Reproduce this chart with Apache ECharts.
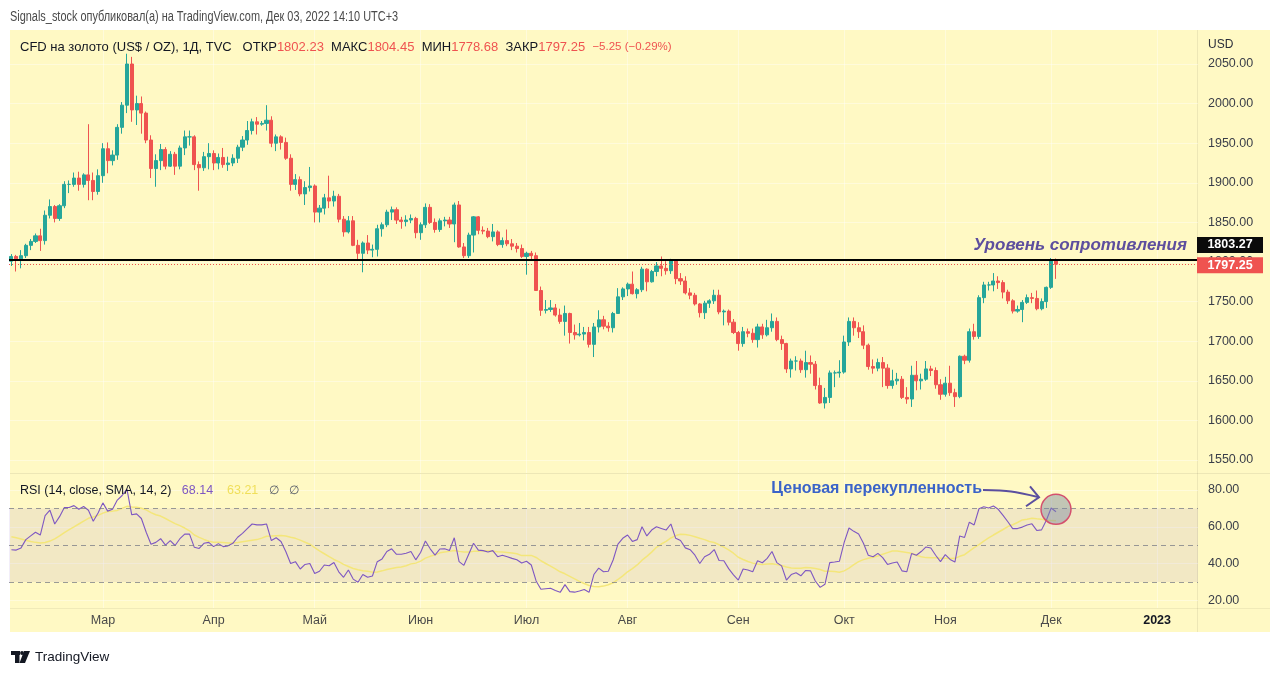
<!DOCTYPE html>
<html>
<head>
<meta charset="utf-8">
<script src="https://cdn.jsdelivr.net/npm/echarts@6/dist/echarts.min.js"></script>
<style>
html,body{margin:0;padding:0;background:#ffffff;}
#chart{width:1280px;height:676px;}
</style>
</head>
<body>
<div id="chart"></div>
<script>
// ---------------- DATA ----------------
const monthNames = ['Янв','Фев','Мар','Апр','Май','Июн','Июл','Авг','Сен','Окт','Ноя','Дек'];
const firstDay = '2022-02-02';
const totalSlots = 247; // weekday slots shown on the time scale (incl. empty future)

// daily candles [open, close, low, high], 2022-02-02 .. 2022-12-02
const candles = [
// Feb
[1801,1807,1795,1810],[1807,1804,1788,1809],[1804,1808,1792,1815],[1808,1821,1805,1823],[1821,1826,1815,1829],
[1826,1833,1824,1836],[1833,1827,1814,1842],[1827,1859,1822,1865],[1859,1870,1855,1879],[1870,1855,1850,1872],
[1855,1871,1852,1873],[1871,1898,1868,1902],[1898,1898,1887,1903],[1898,1906,1895,1913],[1906,1898,1890,1914],
[1898,1910,1894,1912],[1910,1903,1878,1974],[1903,1889,1878,1913],[1889,1909,1885,1917],
// Mar
[1909,1943,1900,1950],[1943,1928,1912,1951],[1928,1935,1922,1941],[1935,1970,1929,1974],[1970,1998,1962,2002],
[1998,2050,1988,2063],[2050,1992,1977,2059],[1992,2000,1973,2010],[2000,1988,1962,2009],[1988,1954,1950,1990],
[1954,1918,1906,1960],[1918,1928,1895,1936],[1928,1942,1916,1949],[1942,1921,1917,1945],[1921,1936,1920,1940],
[1936,1921,1910,1939],[1921,1944,1917,1947],[1944,1958,1935,1966],[1958,1958,1947,1966],[1958,1923,1916,1960],
[1923,1919,1890,1927],[1919,1933,1915,1939],[1933,1937,1917,1950],
// Apr
[1937,1925,1916,1941],[1925,1932,1917,1937],[1932,1923,1919,1944],[1923,1925,1915,1933],[1925,1931,1921,1936],
[1931,1945,1925,1948],[1945,1954,1940,1959],[1954,1966,1948,1978],[1966,1977,1961,1981],[1977,1974,1961,1983],
[1974,1975,1972,1978],[1975,1979,1966,1998],[1979,1950,1945,1984],[1950,1958,1940,1961],[1958,1951,1942,1960],
[1951,1931,1929,1957],[1931,1898,1890,1936],[1898,1904,1891,1911],[1904,1886,1883,1908],[1886,1894,1872,1902],
[1894,1896,1889,1920],
// May
[1896,1863,1850,1898],[1863,1868,1850,1872],[1868,1881,1860,1886],[1881,1877,1868,1909],[1877,1883,1870,1890],
[1883,1854,1850,1886],[1854,1838,1832,1858],[1838,1852,1836,1858],[1852,1821,1820,1858],[1821,1811,1802,1828],
[1811,1824,1787,1826],[1824,1815,1810,1834],[1815,1816,1806,1822],[1816,1842,1807,1847],[1842,1847,1832,1850],
[1847,1863,1844,1866],[1863,1866,1853,1870],[1866,1853,1848,1869],[1853,1851,1842,1857],[1851,1853,1845,1859],
[1853,1855,1849,1860],[1855,1837,1830,1857],
// Jun
[1837,1847,1828,1850],[1847,1869,1843,1874],[1869,1850,1848,1873],[1850,1841,1837,1855],[1841,1852,1838,1855],
[1852,1853,1845,1857],[1853,1848,1843,1857],[1848,1872,1825,1875],[1872,1819,1818,1877],[1819,1808,1805,1824],
[1808,1834,1805,1837],[1834,1857,1812,1858],[1857,1840,1835,1858],[1840,1839,1835,1845],[1839,1832,1830,1843],
[1832,1838,1826,1848],[1838,1822,1820,1840],[1822,1827,1818,1831],[1827,1823,1820,1841],[1823,1820,1815,1829],
[1820,1817,1812,1824],[1817,1807,1805,1822],
// Jul
[1807,1811,1784,1813],[1811,1808,1803,1814],[1808,1764,1764,1812],[1764,1739,1732,1769],[1739,1740,1735,1752],
[1740,1742,1737,1752],[1742,1733,1731,1747],[1733,1725,1722,1741],[1725,1735,1707,1745],[1735,1711,1697,1736],
[1711,1708,1702,1721],[1708,1709,1706,1723],[1709,1711,1701,1718],[1711,1696,1692,1718],[1696,1718,1680,1723],
[1718,1727,1711,1739],[1727,1719,1715,1732],[1719,1717,1712,1724],[1717,1735,1711,1737],[1735,1756,1735,1767],
[1756,1766,1752,1768],
// Aug
[1766,1772,1757,1774],[1772,1760,1759,1788],[1760,1765,1754,1767],[1765,1791,1762,1794],[1791,1775,1763,1792],
[1775,1788,1774,1790],[1788,1795,1782,1800],[1795,1792,1782,1807],[1792,1789,1784,1801],[1789,1802,1785,1804],
[1802,1779,1772,1803],[1779,1776,1771,1786],[1776,1761,1759,1782],[1761,1758,1753,1767],[1758,1747,1745,1761],
[1747,1736,1730,1748],[1736,1748,1728,1751],[1748,1751,1742,1753],[1751,1758,1747,1765],[1758,1737,1734,1765],
[1737,1738,1720,1740],[1738,1724,1720,1740],[1724,1711,1709,1728],
// Sep
[1711,1697,1688,1713],[1697,1712,1693,1718],[1712,1710,1705,1716],[1710,1702,1698,1716],[1702,1718,1692,1722],
[1718,1708,1703,1722],[1708,1717,1706,1727],[1717,1725,1712,1735],[1725,1702,1700,1730],[1702,1697,1689,1707],
[1697,1665,1660,1698],[1665,1675,1654,1678],[1675,1675,1663,1681],[1675,1664,1660,1678],[1664,1673,1654,1688],
[1673,1671,1659,1682],[1671,1644,1639,1675],[1644,1622,1621,1654],[1622,1629,1615,1641],[1629,1660,1622,1663],
[1660,1660,1642,1663],[1660,1661,1654,1676],
// Oct
[1661,1699,1659,1707],[1699,1725,1694,1730],[1725,1717,1707,1730],[1717,1712,1704,1724],[1712,1695,1690,1720],
[1695,1668,1664,1697],[1668,1666,1659,1677],[1666,1673,1662,1678],[1673,1666,1642,1680],[1666,1644,1640,1671],
[1644,1650,1640,1664],[1650,1652,1645,1660],[1652,1629,1627,1656],[1629,1627,1621,1642],[1627,1657,1617,1669],
[1657,1650,1638,1675],[1650,1652,1639,1659],[1652,1665,1650,1675],[1665,1663,1656,1669],[1663,1645,1640,1667],
[1645,1633,1626,1652],
// Nov
[1633,1647,1630,1655],[1647,1635,1631,1669],[1635,1630,1617,1640],[1630,1681,1628,1682],[1681,1676,1671,1683],
[1676,1712,1673,1716],[1712,1706,1702,1722],[1706,1755,1703,1758],[1755,1771,1748,1775],[1771,1771,1764,1775],
[1771,1776,1763,1786],[1776,1774,1766,1782],[1774,1762,1754,1777],[1762,1751,1747,1765],[1751,1738,1735,1753],
[1738,1740,1736,1745],[1740,1749,1724,1752],[1749,1755,1747,1759],[1755,1754,1748,1761],[1754,1741,1739,1764],
[1741,1750,1739,1754],[1750,1768,1742,1769],
// Dec
[1768,1802.5,1766,1805],[1802.23,1797.25,1778.68,1804.45]
];

// RSI(14) values
const rsi = [
47.5,47.3,48.5,53,55,57,55.5,66,69,61.5,
65.5,70.5,70.5,71.5,69.5,71,69,63,67.5,73,
68.5,69.5,74.5,77,80.5,66.5,67,64.5,57,50.5,
51.5,53.5,50,52.5,49.8,53.5,56,56,48.8,48.2,
51,51.5,49.2,50.8,49.2,49.6,51,54.3,56.4,59,
61.5,61,61,61.5,52.5,54,52,46.5,40,41,
37,39.5,40,34.5,35.8,39.2,38.8,40.5,35.5,32.5,
36.5,31.5,29.8,34,32.5,33.2,41,42.5,46.5,48,
45,45,45.6,46.5,42,46,52.2,48,44.6,47.9,
48,47.1,54,41,39,45,51,47.3,47,46.3,
47,43.7,44.5,43.7,42.8,42,40.3,41.2,39.2,30.5,
26,26.3,26.5,25.3,24.3,28.5,24.7,24.4,25,25.8,
24.3,34,37.5,35.5,35.8,41.9,50.5,53.7,55.5,52,
53,60,55,58.2,60,59.1,58.2,61.5,53.7,52.5,
48.5,47.5,44.5,40,43.7,45,47.6,41.6,41.5,37.2,
33.8,31,37,36.5,35.5,41.5,40.4,42.8,46.5,40.5,
38.7,31,34,35,33.3,36.2,36,30.5,27,28.7,
40.5,40.8,41.2,51.5,59.3,57.5,56,51,44.5,43.7,
45.5,43.2,39.5,40.3,40.8,36,35.5,45.4,44.5,46.5,
49,48.4,44.5,41,44.8,42.2,40.8,55,54.2,62.5,
61,69.8,70.9,70.2,71.3,69.5,66.2,62.7,59,59,
59.8,61,61.6,58,58.3,63.5,70.2,68.14
];

// SMA(14) line of the RSI
const rsiSma = [
54.6,54.0,53.3,52.6,52.0,51.5,51.2,51.4,52.2,53.4,
55.0,56.8,58.4,59.9,61.5,63.1,64.6,65.3,66.2,67.4,
68.3,68.5,68.9,70.0,71.1,70.8,70.6,70.1,69.2,67.7,
66.5,65.8,64.5,63.1,61.7,60.6,59.3,57.8,55.5,54.2,
53.1,52.1,51.6,51.6,51.4,51.2,51.2,51.4,51.8,52.2,
52.6,53.0,53.8,54.8,54.9,55.1,55.3,55.0,54.3,53.7,
52.7,51.6,50.5,48.7,46.9,45.3,43.7,42.2,41.0,39.5,
38.4,37.3,36.6,36.1,35.8,35.3,35.4,36.0,36.7,37.3,
37.8,38.1,38.8,39.8,40.2,41.3,42.9,43.9,44.7,45.8,
46.3,46.6,47.1,46.6,46.2,46.2,46.6,46.7,47.0,47.0,
46.7,46.4,46.3,46.0,45.7,45.3,44.3,44.3,44.4,43.3,
41.5,40.0,38.6,37.1,35.5,34.4,33.0,31.6,30.3,29.1,
28.0,27.5,27.4,27.7,28.4,29.5,31.3,33.3,35.5,37.2,
39.2,41.8,43.9,46.2,48.8,50.6,52.0,53.9,55.2,55.9,
55.8,55.3,54.6,53.7,53.0,52.0,51.4,50.2,48.9,47.4,
45.6,43.4,42.2,41.1,40.2,39.7,39.5,39.7,39.9,39.5,
38.9,38.1,37.6,37.4,37.4,37.8,37.7,37.3,36.7,35.8,
35.8,35.6,35.2,36.0,37.5,39.4,41.0,42.1,42.9,43.4,
44.1,45.0,45.9,46.8,46.8,46.4,46.0,45.6,44.5,43.7,
43.2,43.1,43.1,42.9,42.8,42.7,42.8,43.9,44.8,46.7,
48.6,50.3,52.2,53.9,55.5,57.0,58.5,60.1,61.1,62.3,
63.7,64.1,64.6,64.3,64.1,63.6,63.4,63.21
];

const priceScale = {min: 1550, max: 2050, step: 50};
const rsiScale = {min: 20, max: 80, step: 20};
const rsiLevels = [70, 50, 30];
const resistanceLevel = 1803.27;
const headerText = 'Signals_stock опубликовал(а) на TradingView.com, Дек 03, 2022 14:10 UTC+3';
const symbolText = 'CFD на золото (US$ / OZ), 1Д, TVC';
const rsiTitle = 'RSI (14, close, SMA, 14, 2)';
const resistanceText = 'Уровень сопротивления';
const overboughtText = 'Ценовая перекупленность';

// ---------------- BUILD ----------------
const categories = [];
{
  const d = new Date(firstDay + 'T00:00:00Z');
  while (categories.length < totalSlots) {
    const wd = d.getUTCDay();
    if (wd !== 0 && wd !== 6) categories.push(d.toISOString().slice(0, 10));
    d.setUTCDate(d.getUTCDate() + 1);
  }
}
const monthStart = categories.map((c, i) => i > 0 && c.slice(0, 7) !== categories[i - 1].slice(0, 7));
const isMonthStart = (idx) => !!monthStart[idx];
const monthLabel = (v) => {
  const m = +v.slice(5, 7);
  return m === 1 ? '{y|' + v.slice(0, 4) + '}' : monthNames[m - 1];
};

const FONT = "'Liberation Sans', Arial, sans-serif";
const BG = '#fff9c4';
const GRID_COLOR = 'rgba(255,255,255,0.4)';
const UP = '#26a69a', DOWN = '#ef5350';
const L = 9, R = 82;

const last = candles[candles.length - 1];
const prevClose = candles[candles.length - 2][1];
const chg = last[1] - prevClose;
const fmt = (v) => v.toFixed(2);
const minus = (s) => s.replace('-', '\u2212');

const hiddenX = (gi, split) => ({
  gridIndex: gi, type: 'category', data: categories, boundaryGap: true,
  axisLine: {show: false}, axisTick: {show: false}, axisLabel: {show: false},
  splitLine: {show: !!split, interval: isMonthStart, alignWithLabel: true, lineStyle: {color: GRID_COLOR, width: 1}}
});

const option = {
  animation: false,
  backgroundColor: '#ffffff',
  grid: [
    {left: L, right: R, top: 30, height: 443, containLabel: false, outerBoundsMode: 'none'},
    {left: L, right: R, top: 64, height: 396, containLabel: false, outerBoundsMode: 'none'},
    {left: L, right: R, top: 474, height: 134, containLabel: false, outerBoundsMode: 'none'},
    {left: L, right: R, top: 490, height: 110.25, containLabel: false, outerBoundsMode: 'none'}
  ],
  xAxis: [
    hiddenX(0, true),
    hiddenX(1, false),
    Object.assign(hiddenX(2, true), {
      axisLabel: {show: true, interval: isMonthStart, formatter: monthLabel, color: '#4a4a4a',
        fontSize: 12.5, fontFamily: FONT, margin: 6,
        rich: {y: {fontWeight: 'bold', color: '#131722', fontSize: 12.5, fontFamily: FONT}}}
    }),
    hiddenX(3, false)
  ],
  yAxis: [
    {gridIndex: 0, type: 'value', show: false},
    {gridIndex: 1, type: 'value', position: 'right', min: priceScale.min, max: priceScale.max, interval: priceScale.step,
      axisLine: {show: false}, axisTick: {show: false},
      axisLabel: {formatter: fmt, color: '#3a3e49', fontSize: 12.5, fontFamily: FONT, margin: 10, align: 'left'},
      splitLine: {show: true, lineStyle: {color: GRID_COLOR}}},
    {gridIndex: 2, type: 'value', show: false},
    {gridIndex: 3, type: 'value', position: 'right', min: rsiScale.min, max: rsiScale.max, interval: rsiScale.step,
      axisLine: {show: false}, axisTick: {show: false},
      axisLabel: {formatter: fmt, color: '#3a3e49', fontSize: 12.5, fontFamily: FONT, margin: 10, align: 'left'},
      splitLine: {show: true, lineStyle: {color: GRID_COLOR}}}
  ],
  series: [
    {
      type: 'candlestick', xAxisIndex: 1, yAxisIndex: 1, data: candles, barWidth: 3.6, clip: false,
      itemStyle: {color: UP, color0: DOWN, borderColor: UP, borderColor0: DOWN, borderWidth: 1},
      markLine: {
        silent: true, symbol: ['none', 'none'], animation: false,
        label: {show: false},
        data: [
          {yAxis: last[1], lineStyle: {color: DOWN, width: 1, type: [1, 2]}},
          {yAxis: resistanceLevel, lineStyle: {color: '#000000', width: 2.2, type: 'solid'}}
        ]
      }
    },
    {
      type: 'line', xAxisIndex: 3, yAxisIndex: 3, data: rsiSma, symbol: 'none', clip: false,
      lineStyle: {color: '#f4e67a', width: 1.5}, z: 3
    },
    {
      type: 'line', xAxisIndex: 3, yAxisIndex: 3, data: rsi, symbol: 'none', clip: false,
      lineStyle: {color: '#7e57c2', width: 1.1}, z: 4,
      markArea: {silent: true, itemStyle: {color: 'rgba(126,87,194,0.1)'},
        data: [[{yAxis: rsiLevels[2]}, {yAxis: rsiLevels[0]}]]},
      markLine: {silent: true, symbol: ['none', 'none'], label: {show: false}, animation: false,
        lineStyle: {color: 'rgba(120,123,134,0.75)', width: 1, type: [5, 4]},
        data: rsiLevels.map(v => ({yAxis: v}))}
    }
  ]
};

const chart = echarts.init(document.getElementById('chart'), null, {renderer: 'canvas'});
chart.setOption(option);

// ----- overlays anchored to the axes -----
const yP = (v) => chart.convertToPixel({yAxisIndex: 1}, v);
const yR = (v) => chart.convertToPixel({yAxisIndex: 3}, v);
const xC = (i) => chart.convertToPixel({xAxisIndex: 3}, categories[i]);
const plotRight = 1280 - R;
const yRes = yP(resistanceLevel);
const yClose = yP(last[1]);
const xLast = xC(candles.length - 1);
const cy = yR(69.5);
const txt = (o) => Object.assign({type: 'text', silent: true}, o);
const tipX = xLast - 17, tipY = cy - 12;

const graphics = [
  {type: 'rect', silent: true, z: -100, shape: {x: 10, y: 30, width: 1260, height: 602}, style: {fill: BG}},
  {type: 'line', silent: true, z: -50, shape: {x1: 10, y1: 473.5, x2: 1270, y2: 473.5}, style: {stroke: 'rgba(0,0,0,0.07)', lineWidth: 1}},
  {type: 'line', silent: true, z: -50, shape: {x1: 10, y1: 608.5, x2: 1270, y2: 608.5}, style: {stroke: 'rgba(0,0,0,0.06)', lineWidth: 1}},
  {type: 'line', silent: true, z: -50, shape: {x1: plotRight - 0.5, y1: 30, x2: plotRight - 0.5, y2: 632}, style: {stroke: 'rgba(0,0,0,0.07)', lineWidth: 1}},
  txt({x: 10, y: 17, scaleX: 0.78, style: {text: headerText, fontSize: 14, fontFamily: FONT, fill: '#4a4a4a', verticalAlign: 'middle'}}),
  txt({x: 20, y: 47, z: 20, style: {
    text: '{t|' + symbolText + '}   {t|ОТКР}{v|' + fmt(last[0]) + '}  {t|МАКС}{v|' + fmt(last[3]) + '}  {t|МИН}{v|' + fmt(last[2]) +
      '}  {t|ЗАКР}{v|' + fmt(last[1]) + '}  {c|' + minus(fmt(chg)) + ' (' + minus((chg / prevClose * 100).toFixed(2)) + '%)}',
    verticalAlign: 'middle', fontSize: 13, fontFamily: FONT,
    rich: {t: {fill: '#131722', color: '#131722', fontSize: 13, fontFamily: FONT},
           v: {fill: '#ef5350', color: '#ef5350', fontSize: 13, fontFamily: FONT},
           c: {fill: '#ef5350', color: '#ef5350', fontSize: 11.5, fontFamily: FONT}}}}),
  txt({x: plotRight + 10, y: 45, style: {text: 'USD', fontSize: 12, fontFamily: FONT, fill: '#2a2e39', verticalAlign: 'middle'}}),
  txt({x: 20, y: 491, z: 20, style: {
    text: '{t|' + rsiTitle + '}   {p|' + fmt(rsi[rsi.length - 1]) + '}    {y|' + fmt(rsiSma[rsiSma.length - 1]) + '}   {g|\u2205   \u2205}',
    verticalAlign: 'middle', fontSize: 12.5, fontFamily: FONT,
    rich: {t: {fill: '#131722', color: '#131722', fontSize: 12.5, fontFamily: FONT},
           p: {fill: '#7e57c2', color: '#7e57c2', fontSize: 12.5, fontFamily: FONT},
           y: {fill: '#f0df5a', color: '#f0df5a', fontSize: 12.5, fontFamily: FONT},
           g: {fill: '#555a66', color: '#555a66', fontSize: 12, fontFamily: FONT}}}}),
  // price tags
  {type: 'rect', silent: true, z: 30, shape: {x: plotRight - 1, y: yRes - 22.5, width: 66, height: 16}, style: {fill: '#0b0b0b'}},
  txt({z: 31, x: plotRight + 32, y: yRes - 14.5, style: {text: fmt(resistanceLevel), fontSize: 12.5, fontWeight: 'bold', fontFamily: FONT, fill: '#ffffff', align: 'center', verticalAlign: 'middle'}}),
  {type: 'rect', silent: true, z: 30, shape: {x: plotRight - 1, y: yClose - 7, width: 66, height: 16}, style: {fill: '#ef5350'}},
  txt({z: 31, x: plotRight + 32, y: yClose + 1, style: {text: fmt(last[1]), fontSize: 12.5, fontWeight: 'bold', fontFamily: FONT, fill: '#ffffff', align: 'center', verticalAlign: 'middle'}}),
  // annotations
  txt({z: 25, x: plotRight - 11, y: yRes - 14, style: {text: resistanceText, fontSize: 17, fontStyle: 'italic', fontWeight: 'bold', fontFamily: FONT, fill: '#5d4e9e', align: 'right', verticalAlign: 'middle'}}),
  txt({z: 25, x: xLast - 74, y: yR(80.5), style: {text: overboughtText, fontSize: 16, fontWeight: 'bold', fontFamily: FONT, fill: '#3a63c8', align: 'right', verticalAlign: 'middle'}}),
  {type: 'polyline', silent: true, z: 25, shape: {points: [[xLast - 73, yR(80.5) + 1], [xLast - 45, yR(80.5) + 2.5], [tipX, tipY]], smooth: 0.3},
    style: {stroke: '#5b4f9f', lineWidth: 2, fill: null}},
  {type: 'polyline', silent: true, z: 25, shape: {points: [[tipX - 9, tipY - 11], [tipX, tipY], [tipX - 13, tipY + 9]]},
    style: {stroke: '#5b4f9f', lineWidth: 2, fill: null}},
  {type: 'circle', silent: true, z: 26, shape: {cx: xLast, cy: cy, r: 15}, style: {fill: 'rgba(120,135,165,0.45)', stroke: '#d4506e', lineWidth: 1.5}},
  // logo
  {type: 'rect', silent: true, shape: {x: 11, y: 651, width: 9, height: 4}, style: {fill: '#131722'}},
  {type: 'rect', silent: true, shape: {x: 15, y: 651, width: 4.5, height: 12}, style: {fill: '#131722'}},
  {type: 'polygon', silent: true, shape: {points: [[24, 651], [30, 651], [25, 663], [19.5, 663]]}, style: {fill: '#131722'}},
  {type: 'circle', silent: true, shape: {cx: 22, cy: 653, r: 1.9}, style: {fill: '#131722'}},
  txt({x: 35, y: 657, style: {text: 'TradingView', fontSize: 13.5, fontFamily: FONT, fill: '#131722', verticalAlign: 'middle'}})
];
chart.setOption({graphic: graphics});
</script>
</body>
</html>
